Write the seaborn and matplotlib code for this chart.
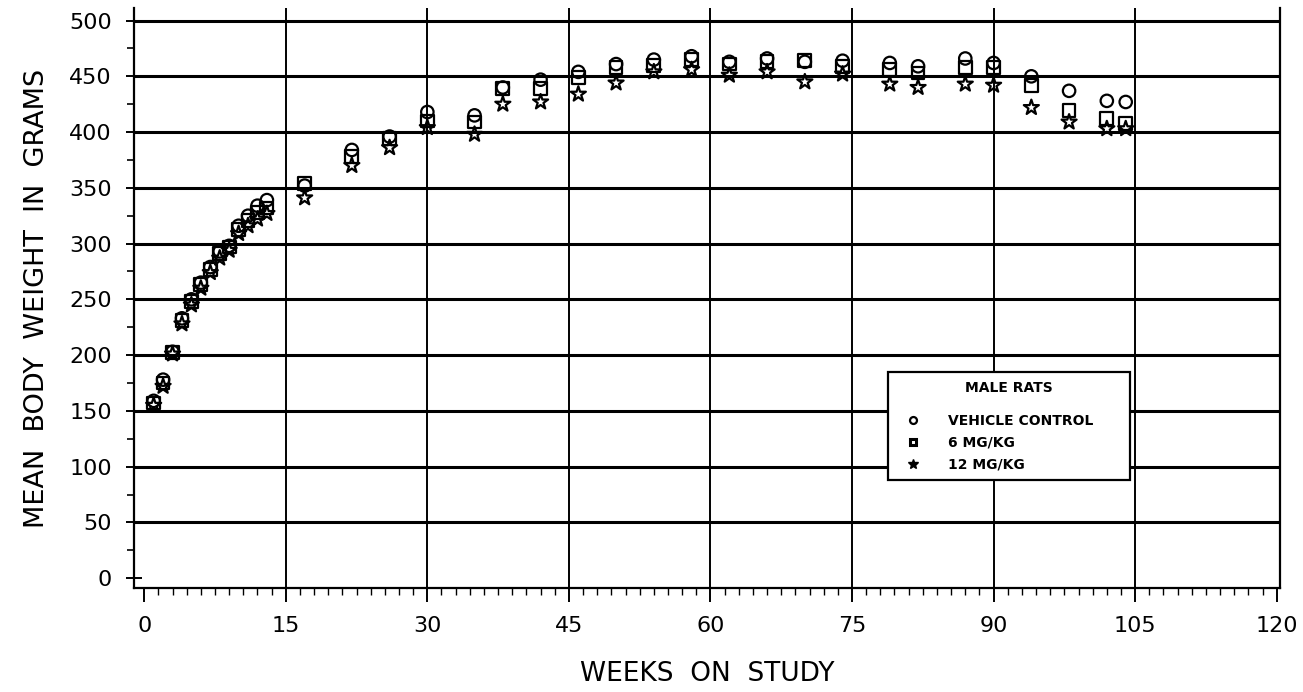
import numpy as np
import pandas as pd
import matplotlib
matplotlib.use("Agg")
import matplotlib.pyplot as plt
from matplotlib.lines import Line2D
from matplotlib.ticker import MultipleLocator
import seaborn as sns

# mean body weight (g) of male rats
weeks = [1, 2, 3, 4, 5, 6, 7, 8, 9, 10, 11, 12, 13, 17, 22, 26, 30, 35, 38, 42,
         46, 50, 54, 58, 62, 66, 70, 74, 79, 82, 87, 90, 94, 98, 102, 104]
vehicle_control = [159, 178, 203, 233, 250, 265, 279, 293, 298, 316, 325, 334, 339, 352,
                   384, 396, 418, 415, 440, 447, 454, 461, 465, 468, 463, 466, 463, 464,
                   462, 459, 466, 462, 450, 437, 428, 427]
mg_6 = [157, 175, 202, 231, 248, 263, 277, 291, 297, 313, 321, 328, 332, 354,
        378, 394, 410, 409, 439, 439, 449, 458, 460, 465, 461, 463, 464, 459,
        456, 453, 458, 458, 442, 419, 412, 408]
mg_12 = [155, 172, 201, 228, 245, 260, 274, 287, 294, 309, 316, 322, 327, 341,
         370, 386, 404, 398, 425, 427, 434, 444, 454, 456, 451, 454, 445, 452,
         443, 440, 443, 442, 422, 409, 403, 403]

groups = ["VEHICLE CONTROL", "6 MG/KG", "12 MG/KG"]
markers = {"VEHICLE CONTROL": "o", "6 MG/KG": "s", "12 MG/KG": "*"}
sizes = {"VEHICLE CONTROL": 80, "6 MG/KG": 85, "12 MG/KG": 130}

# grid positions (no line at 0 in the original)
hgrid = [50, 100, 150, 200, 250, 300, 350, 400, 450, 500]
vgrid = [15, 30, 45, 60, 75, 90, 105]

df = pd.concat([
    pd.DataFrame({"week": weeks, "weight": vals, "group": g})
    for g, vals in zip(groups, [vehicle_control, mg_6, mg_12])
])

sns.set_style("white")
plt.rcParams["font.family"] = ["DejaVu Sans"]
plt.rcParams["text.color"] = "black"
plt.rcParams["axes.labelcolor"] = "black"
plt.rcParams["xtick.color"] = "black"
plt.rcParams["ytick.color"] = "black"

fig = plt.figure(figsize=(13.03, 6.92), dpi=100)
ax = fig.add_axes([0.103, 0.150, 0.879, 0.838])

# draw stars first so circles/squares sit on top like in the scan
for g in groups[::-1]:
    sub = df[df["group"] == g]
    sns.scatterplot(data=sub, x="week", y="weight", marker=markers[g], s=sizes[g],
                    facecolors="none", edgecolor="black", linewidth=1.6,
                    color="black", legend=False, ax=ax, zorder=3)

ax.set_xlim(-1.06, 120.3)
ax.set_ylim(-9, 511)
ax.xaxis.set_major_locator(MultipleLocator(15))
ax.xaxis.set_minor_locator(MultipleLocator(1.5))
ax.yaxis.set_major_locator(MultipleLocator(50))
ax.yaxis.set_minor_locator(MultipleLocator(25))

for yv in hgrid:
    ax.axhline(yv, color="black", linewidth=2.2, zorder=1)
for xv in vgrid:
    ax.axvline(xv, color="black", linewidth=1.4, zorder=1)

for side in ["left", "bottom", "right"]:
    ax.spines[side].set_color("black")
    ax.spines[side].set_linewidth(1.6)
ax.spines["top"].set_visible(False)

ax.tick_params(axis="y", which="major", direction="inout", length=12, width=1.4,
               labelsize=16, pad=10, left=True)
ax.tick_params(axis="y", which="minor", direction="out", length=5, width=1.2, left=True)
ax.tick_params(axis="x", which="major", direction="out", length=10, width=1.4,
               labelsize=16, pad=10, bottom=True)
ax.tick_params(axis="x", which="minor", direction="out", length=5, width=1.0, bottom=True)

ax.set_xlabel("WEEKS  ON  STUDY", fontsize=19, labelpad=18)
ax.set_ylabel("MEAN  BODY  WEIGHT  IN  GRAMS", fontsize=19.5, labelpad=14)

handles = [
    Line2D([], [], linestyle="none", marker="o", markersize=5, markerfacecolor="none",
           markeredgecolor="black", markeredgewidth=1.6),
    Line2D([], [], linestyle="none", marker="s", markersize=5, markerfacecolor="none",
           markeredgecolor="black", markeredgewidth=2.2),
    Line2D([], [], linestyle="none", marker="*", markersize=7, markerfacecolor="black",
           markeredgecolor="black"),
]
leg = ax.legend(handles, groups, title="MALE RATS", loc="upper left",
                bbox_to_anchor=(0.658, 0.174, 0.211, 0.198), mode="expand",
                frameon=True, fancybox=False,
                prop={"weight": "bold", "size": 10},
                title_fontproperties={"weight": "bold", "size": 10},
                borderpad=0.6, labelspacing=0.55, handletextpad=1.3, handlelength=2.4,
                borderaxespad=0)
leg.get_frame().set_edgecolor("black")
leg.get_frame().set_linewidth(1.6)
leg.get_frame().set_alpha(1)
leg._legend_box.sep = 14

fig.savefig("out.png", dpi=100)
